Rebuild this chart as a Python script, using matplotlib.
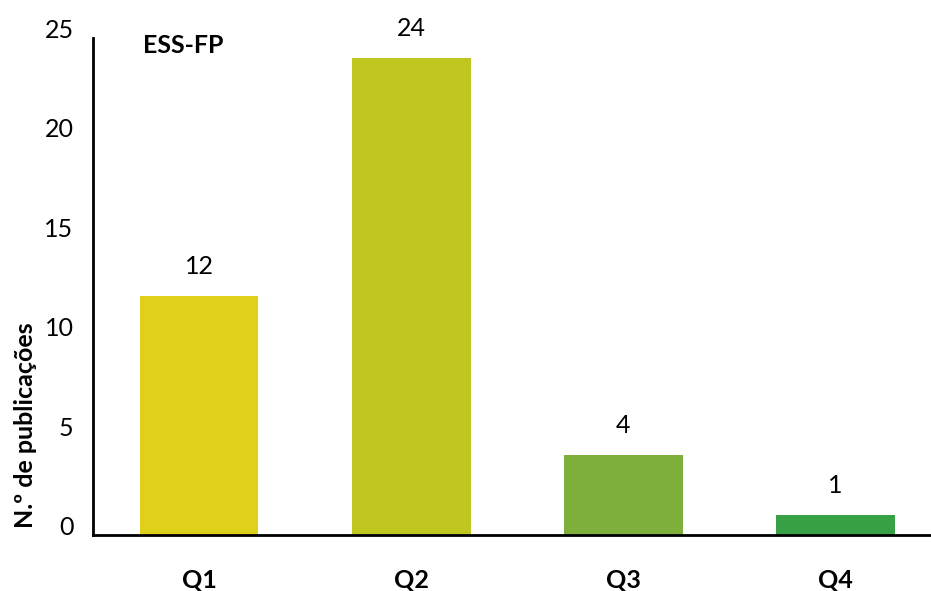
import matplotlib
matplotlib.use("Agg")
import matplotlib.pyplot as plt

# -----------------------------
# DATA
# -----------------------------
quartis = ["Q1", "Q2", "Q3", "Q4"]
publicacoes = [12, 24, 4, 1]
cores = ["#DFD01B", "#BEC61F", "#7DAF3A", "#38A146"]

plt.rcParams["font.family"] = ["Lato", "DejaVu Sans"]

fig = plt.figure(figsize=(9.31, 5.91), dpi=100)
ax = fig.add_axes([0.0999, 0.0948, 0.9001, 0.8409])

x = list(range(len(quartis)))
bars = ax.bar(x, publicacoes, width=0.56, color=cores)

for xi, v in zip(x, publicacoes):
    ax.annotate(str(v), (xi, v), xytext=(0, 13), textcoords="offset points",
                ha="center", va="bottom", fontsize=18)

ax.set_xlim(-0.5, 3.45)
ax.set_ylim(0, 25)
ax.set_yticks([0, 5, 10, 15, 20, 25])
ax.set_xticks(x)
ax.set_xticklabels(quartis, fontweight="bold")
ax.tick_params(axis="y", length=0, pad=14, labelsize=18)
ax.tick_params(axis="x", length=0, pad=24, labelsize=18)
for lbl in ax.get_yticklabels():
    lbl.set_verticalalignment("baseline")

ax.spines["top"].set_visible(False)
ax.spines["right"].set_visible(False)
ax.spines["left"].set_linewidth(2)
ax.spines["bottom"].set_linewidth(2)

ax.set_ylabel("N.º de publicações", fontsize=18, fontweight="bold")
ax.yaxis.set_label_coords(-0.067, 0.22)

ax.text(0.06, 1.008, "ESS-FP", transform=ax.transAxes, fontsize=18,
        fontweight="bold", ha="left", va="top")

fig.savefig("out.png", dpi=100)
